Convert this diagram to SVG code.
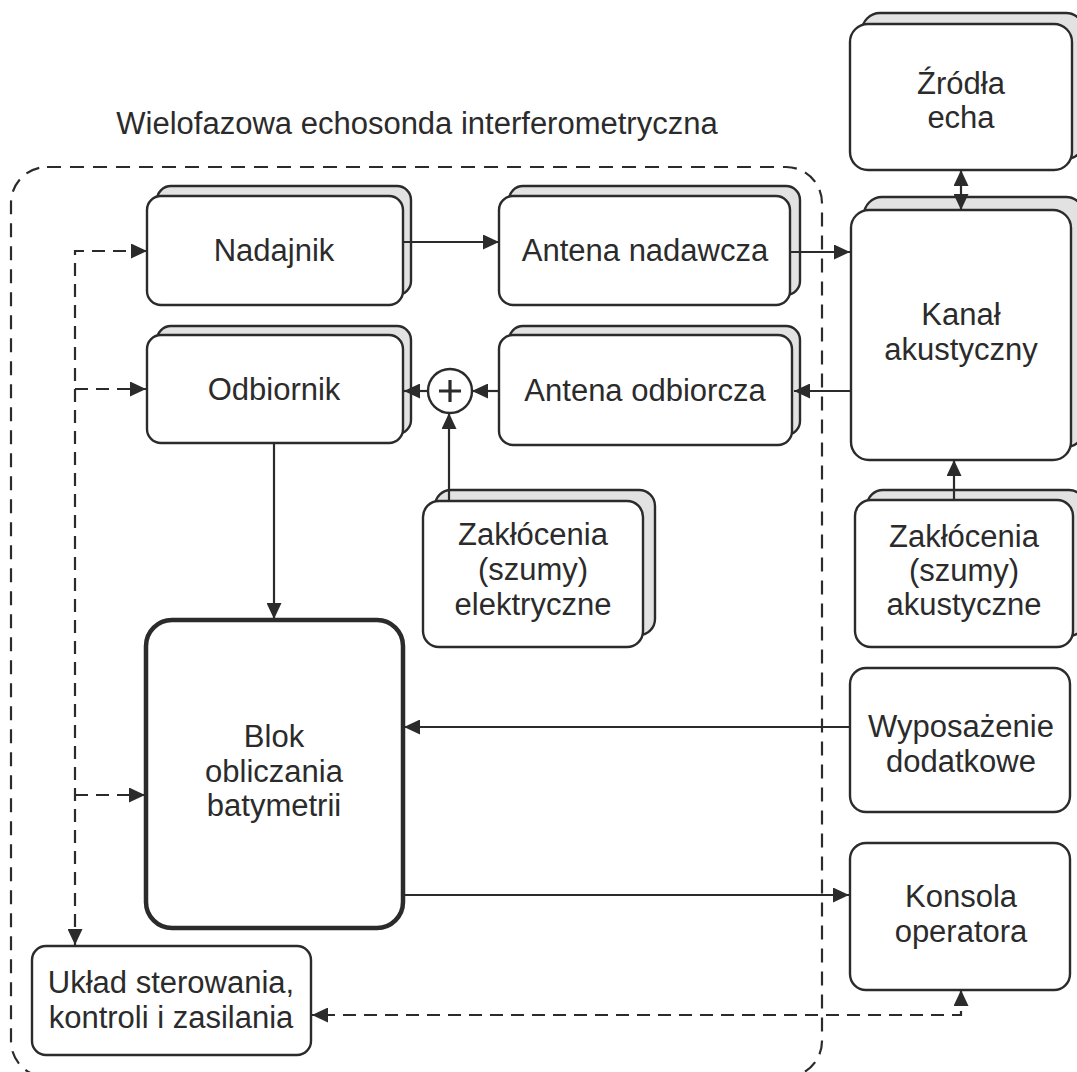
<svg xmlns="http://www.w3.org/2000/svg" width="1077" height="1072" viewBox="0 0 1077 1072">
<defs>
<style>
text{font-family:"Liberation Sans",Arial,sans-serif;font-size:31px;fill:#2b2b2b;text-anchor:middle}
.f{fill:#fff;stroke:#2b2b2b;stroke-width:2.4}
.s{fill:#e2e2e2;stroke:#2b2b2b;stroke-width:2.4}
.c{fill:none;stroke:#2b2b2b;stroke-width:2.2}
.d{fill:none;stroke:#2b2b2b;stroke-width:2.2;stroke-dasharray:13 8}
</style>
<marker id="a" markerUnits="userSpaceOnUse" markerWidth="17" markerHeight="15" refX="16" refY="7.5" orient="auto-start-reverse"><path d="M0,0 L16,7.5 L0,15 z" fill="#2b2b2b"/></marker>
</defs>
<rect width="1077" height="1072" fill="#fff"/>
<text x="417" y="134">Wielofazowa echosonda interferometryczna</text>
<rect id="border" x="11" y="167" width="811" height="910" rx="36" fill="none" stroke="#2b2b2b" stroke-width="2.2" stroke-dasharray="14 9"/>

<g id="nadajnik"><rect class="s" x="157" y="186" width="254" height="109" rx="14"/><rect class="f" x="147" y="196" width="256" height="109" rx="14"/><text x="274" y="261">Nadajnik</text></g>
<g id="odbiornik"><rect class="s" x="157" y="326" width="254" height="108" rx="14"/><rect class="f" x="147" y="335" width="256" height="108" rx="14"/><text x="274" y="400">Odbiornik</text></g>
<g id="antena-nadawcza"><rect class="s" x="509" y="186" width="291" height="109" rx="14"/><rect class="f" x="499" y="196" width="291" height="109" rx="14"/><text x="645" y="261">Antena nadawcza</text></g>
<g id="antena-odbiorcza"><rect class="s" x="509" y="326" width="291" height="109" rx="14"/><rect class="f" x="499" y="335" width="293" height="110" rx="14"/><text x="645" y="401">Antena odbiorcza</text></g>
<g id="sumator"><circle cx="450" cy="391" r="22" fill="#fff" stroke="#2b2b2b" stroke-width="2.4"/><path d="M439,391 H461 M450,380 V402" stroke="#2b2b2b" stroke-width="3.2"/></g>
<g id="zaklocenia-el"><rect class="s" x="435" y="490" width="220" height="145" rx="16"/><rect class="f" x="423" y="501" width="220" height="146" rx="16"/><text x="533" y="545">Zakłócenia</text><text x="533" y="580">(szumy)</text><text x="533" y="615">elektryczne</text></g>
<g id="zrodla"><rect class="s" x="862" y="13" width="222" height="146" rx="18"/><rect class="f" x="850" y="24" width="222" height="146" rx="18"/><text x="961" y="94">Źródła</text><text x="961" y="128">echa</text></g>
<g id="kanal"><rect class="s" x="864" y="197" width="220" height="250" rx="18"/><rect class="f" x="851" y="210" width="220" height="250" rx="18"/><text x="961" y="325">Kanał</text><text x="961" y="360">akustyczny</text></g>
<g id="zaklocenia-ak"><rect class="s" x="867" y="490" width="218" height="146" rx="16"/><rect class="f" x="855" y="500" width="218" height="147" rx="16"/><text x="964" y="547">Zakłócenia</text><text x="964" y="581">(szumy)</text><text x="964" y="615">akustyczne</text></g>
<g id="wyposazenie"><rect class="f" x="850" y="668" width="220" height="144" rx="16"/><text x="961" y="737">Wyposażenie</text><text x="961" y="772">dodatkowe</text></g>
<g id="konsola"><rect class="f" x="850" y="843" width="220" height="147" rx="16"/><text x="961" y="907">Konsola</text><text x="961" y="942">operatora</text></g>
<g id="blok"><rect x="146" y="620" width="257" height="308" rx="26" fill="#fff" stroke="#2b2b2b" stroke-width="4.5"/><text x="274" y="747">Blok</text><text x="274" y="782">obliczania</text><text x="274" y="816">batymetrii</text></g>
<g id="uklad"><rect class="f" x="32" y="946" width="279" height="109" rx="14"/><text x="171" y="993">Układ sterowania,</text><text x="171" y="1028">kontroli i zasilania</text></g>

<g id="connectors">
<path class="c" d="M403,242 H499" marker-end="url(#a)"/>
<path class="c" d="M790,252 H850" marker-end="url(#a)"/>
<path class="c" d="M851,391 H794" marker-end="url(#a)"/>
<path class="c" d="M499,391 H472" marker-end="url(#a)"/>
<path class="c" d="M428,391 H404" marker-end="url(#a)"/>
<path class="c" d="M449,501 V413" marker-end="url(#a)"/>
<path class="c" d="M954,500 V460" marker-end="url(#a)"/>
<path class="c" d="M961,170 V210" marker-start="url(#a)" marker-end="url(#a)"/>
<path class="c" d="M274,443 V619" marker-end="url(#a)"/>
<path class="c" d="M850,727 H404" marker-end="url(#a)"/>
<path class="c" d="M404,895 H849" marker-end="url(#a)"/>
<path class="d" d="M147,251 H75 V945" marker-start="url(#a)" marker-end="url(#a)"/>
<path class="d" d="M75,389 H146" marker-end="url(#a)"/>
<path class="d" d="M75,795 H145" marker-end="url(#a)"/>
<path class="d" d="M961,990 V1015 H312" marker-start="url(#a)" marker-end="url(#a)"/>
</g>
</svg>
